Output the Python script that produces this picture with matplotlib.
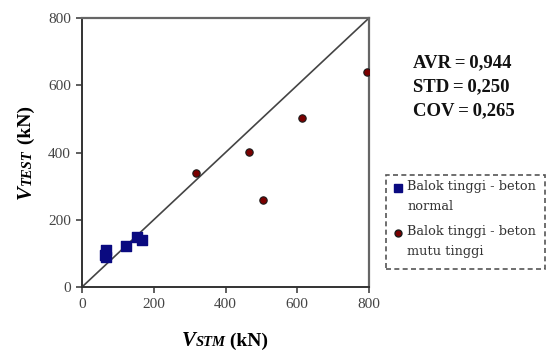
import matplotlib
matplotlib.use("Agg")
import matplotlib.pyplot as plt
from matplotlib.transforms import IdentityTransform
from matplotlib.patches import Rectangle
from matplotlib.lines import Line2D

# ---- data ----
normal_x = [66, 68, 65, 123, 153, 167]
normal_y = [88, 110, 95, 121, 148, 139]
high_x = [317, 466, 504, 613, 794]
high_y = [340, 401, 258, 504, 640]
ticks = [0, 200, 400, 600, 800]
legend_labels = ["Balok tinggi - beton\nnormal", "Balok tinggi - beton\nmutu tinggi"]
stats = ["AVR\u2009=\u20090,944", "STD\u2009=\u20090,250", "COV\u2009=\u20090,265"]

W, H = 547, 352
fig = plt.figure(figsize=(W / 100, H / 100), dpi=100)
ax = fig.add_axes([82 / W, 1 - 287 / H, (369 - 82) / W, (287 - 18) / H])

serif = "Liberation Serif"

ax.plot([0, 800], [0, 800], color="#444444", lw=1.2, zorder=1)
ax.scatter(normal_x, normal_y, marker="s", s=55, color="#0a0a80", edgecolor="#0a0a80", zorder=3)
ax.scatter(high_x, high_y, marker="o", s=28, color="#7a0000", edgecolor="#1a1a1a", lw=0.8, zorder=3)

ax.set_xlim(0, 800)
ax.set_ylim(0, 800)
ax.set_xticks(ticks)
ax.set_yticks(ticks)
ax.set_xticklabels([str(t) for t in ticks], fontfamily=serif, fontsize=11, color="#444444")
ax.set_yticklabels([str(t) for t in ticks], fontfamily=serif, fontsize=11, color="#444444")
ax.tick_params(direction="out", length=4, width=1.2, color="#444444", pad=4)
for s in ["left", "bottom"]:
    ax.spines[s].set_color("#333333")
    ax.spines[s].set_linewidth(1.4)
for s in ["top", "right"]:
    ax.spines[s].set_color("#666666")
    ax.spines[s].set_linewidth(1.6)

# ---- axis labels built from parts ----
fig.canvas.draw()
renderer = fig.canvas.get_renderer()
ident = IdentityTransform()

def parts_text(parts, rotation=0):
    objs = []
    for txt, size, style, weight in parts:
        t = fig.text(0, 0, txt, fontsize=size, fontstyle=style, fontweight=weight,
                     fontfamily=serif, rotation=rotation, transform=ident,
                     ha="left", va="baseline", rotation_mode="anchor")
        objs.append(t)
    widths = []
    for t in objs:
        bb = t.get_window_extent(renderer)
        widths.append(bb.width if rotation == 0 else bb.height)
    return objs, widths

xparts = [("V", 15, "italic", "bold"), ("STM", 10.5, "italic", "bold"), (" (kN)", 14, "normal", "bold")]
objs, widths = parts_text(xparts)
total = sum(widths)
x0 = 225 - total / 2
baseline = H - 346
for t, w in zip(objs, widths):
    t.set_position((x0, baseline))
    x0 += w

yparts = [("V", 15, "italic", "bold"), ("TEST", 10.5, "italic", "bold"), (" (kN)", 14, "normal", "bold")]
objs, widths = parts_text(yparts, rotation=90)
total = sum(widths)
y0 = (H - 152.5) - total / 2
bx = 31
for t, w in zip(objs, widths):
    t.set_position((bx, y0))
    y0 += w

# ---- stats text ----
for i, s in enumerate(stats):
    fig.text(413 / W, 1 - (67 + 24 * i) / H, s, fontfamily=serif, fontweight="bold",
             fontsize=13.5, ha="left", va="baseline", color="#111111")

# ---- legend box ----
rect = Rectangle((386 / W, 1 - 269 / H), (545 - 386) / W, (269 - 175) / H,
                 transform=fig.transFigure, fill=False, edgecolor="#555555",
                 lw=1.2, ls=(0, (3, 2)))
fig.add_artist(rect)
fig.add_artist(Line2D([398 / W], [1 - 188 / H], marker="s", markersize=5.5,
                      color="#0a0a80", transform=fig.transFigure))
fig.add_artist(Line2D([398 / W], [1 - 233 / H], marker="o", markersize=5,
                      markerfacecolor="#7a0000", markeredgecolor="#1a1a1a",
                      transform=fig.transFigure, color="none"))
for lab, ytop in zip(legend_labels, [180, 225]):
    fig.text(407 / W, 1 - ytop / H, lab, fontfamily="DejaVu Serif", fontsize=9.3,
             ha="left", va="top", color="#333333", linespacing=1.75)

fig.savefig("out.png", dpi=100, facecolor="white")
